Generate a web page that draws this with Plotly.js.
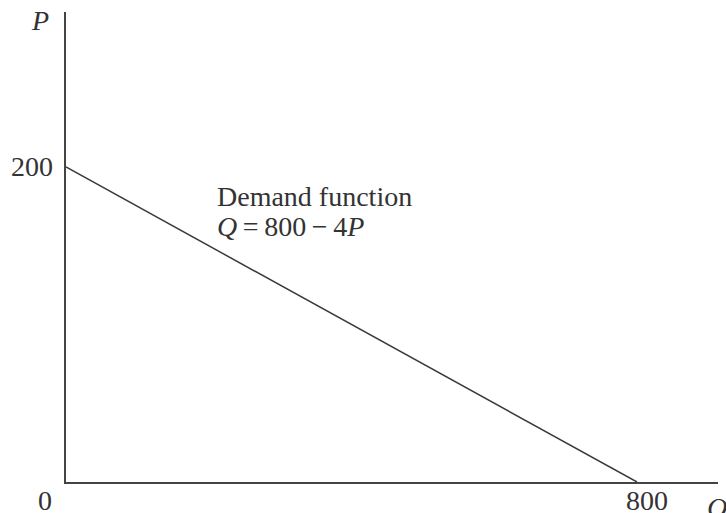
<!DOCTYPE html>
<html>
<head>
<meta charset="utf-8">
<script src="https://cdn.plot.ly/plotly-3.0.1.min.js"></script>
<style>html,body{margin:0;padding:0;background:#fff;}#chart{width:726px;height:513px;}</style>
</head>
<body>
<div id="chart"></div>
<script>
// Demand line endpoints
const quantity = [0, 800];
const price = [200, 0];
const yTickVals = [200];
const xTickVals = [800];
const curveLabel = "Demand function";
const equationLabel = "<i>Q</i>\u2009=\u2009800\u2009−\u20094<i>P</i>";

const fontFam = "Liberation Serif, Times New Roman, serif";
const ink = "#333333";

const trace = {
  x: quantity, y: price, mode: "lines", type: "scatter",
  line: {color: "#3a3a3a", width: 1.5}, hoverinfo: "skip", showlegend: false
};

const ann = [];
yTickVals.forEach(v => ann.push({x: 0, y: v, xref: "x", yref: "y", text: String(v), showarrow: false,
  xanchor: "right", yanchor: "middle", xshift: -11, font: {family: fontFam, size: 28, color: ink}}));
xTickVals.forEach(v => ann.push({x: v, y: 0, xref: "x", yref: "y", text: String(v), showarrow: false,
  xanchor: "center", yanchor: "top", xshift: 10, yshift: -1, font: {family: fontFam, size: 28, color: ink}}));
ann.push({x: 0, y: 0, xref: "x", yref: "y", text: "0", showarrow: false,
  xanchor: "right", yanchor: "top", xshift: -12, yshift: -1, font: {family: fontFam, size: 28, color: ink}});
ann.push({x: 0, y: 1, xref: "x", yref: "paper", text: "<i>P</i>", showarrow: false,
  xanchor: "right", yanchor: "top", xshift: -15, yshift: 9, font: {family: fontFam, size: 28, color: ink}});
ann.push({x: 1, y: 0, xref: "paper", yref: "y", text: "<i>Q</i>", showarrow: false,
  xanchor: "left", yanchor: "top", xshift: -13, yshift: -8, font: {family: fontFam, size: 28, color: ink}});
ann.push({x: 209, y: 181, xref: "x", yref: "y", text: curveLabel, showarrow: false,
  xanchor: "left", yanchor: "middle", font: {family: fontFam, size: 28, color: ink}});
ann.push({x: 209, y: 162, xref: "x", yref: "y", text: equationLabel, showarrow: false,
  xanchor: "left", yanchor: "middle", font: {family: fontFam, size: 28, color: ink}});

const layout = {
  width: 726, height: 513,
  margin: {l: 66, r: 8, t: 12, b: 31},
  paper_bgcolor: "#ffffff", plot_bgcolor: "#ffffff",
  xaxis: {range: [0, 913.5], showline: true, linecolor: "#444", linewidth: 2, showgrid: false,
    zeroline: false, showticklabels: false, ticks: "", fixedrange: true},
  yaxis: {range: [0, 298.4], showline: true, linecolor: "#444", linewidth: 2, showgrid: false,
    zeroline: false, showticklabels: false, ticks: "", fixedrange: true},
  annotations: ann,
  showlegend: false
};

Plotly.newPlot("chart", [trace], layout, {displayModeBar: false, staticPlot: true});
</script>
</body>
</html>
